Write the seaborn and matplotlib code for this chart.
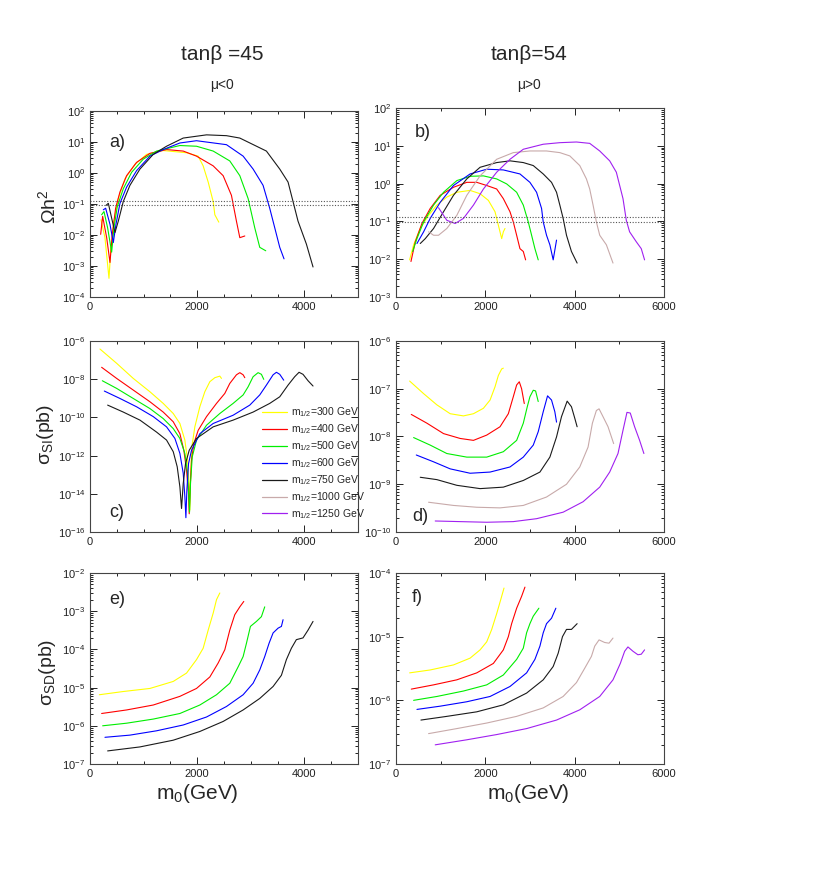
import numpy as np
import pandas as pd
import matplotlib
matplotlib.use("Agg")
import matplotlib.pyplot as plt
from matplotlib.lines import Line2D
from matplotlib.ticker import LogLocator, MultipleLocator, NullLocator, NullFormatter
import seaborn as sns

# m_1/2 values (GeV) and line colours
m12_vals = [300, 400, 500, 600, 750, 1000, 1250]
m12_colors = ["#ffff00", "#ff0000", "#00ee00", "#0000ff", "#1a1a1a", "#c8aaaa", "#a020f0"]

# ---- panel a: Omega h^2, tan(beta)=45, mu<0
a300_m0 = [205, 279, 354, 391, 447, 528, 652, 838, 1056, 1366, 1801, 2018, 2111, 2205, 2298, 2329, 2403]
a300_oh2 = [0.031, 0.0082, 0.0004, 0.004, 0.028, 0.15, 0.65, 1.9, 4.0, 5.3, 4.5, 3.5, 1.7, 0.51, 0.12, 0.045, 0.026]
a400_m0 = [199, 236, 311, 373, 416, 478, 559, 683, 869, 1118, 1428, 1739, 1987, 2298, 2484, 2639, 2732, 2795, 2888]
a400_oh2 = [0.0105, 0.04, 0.0082, 0.0013, 0.0105, 0.073, 0.245, 0.82, 2.2, 4.3, 5.7, 5.1, 3.5, 1.7, 0.82, 0.19, 0.028, 0.0082, 0.0093]
a500_m0 = [217, 261, 329, 404, 447, 509, 621, 776, 994, 1242, 1677, 1987, 2298, 2608, 2795, 2950, 3074, 3167, 3279]
a500_oh2 = [0.045, 0.057, 0.017, 0.0028, 0.017, 0.082, 0.31, 1.05, 2.8, 5.1, 7.7, 7.3, 5.1, 2.45, 0.82, 0.15, 0.017, 0.004, 0.0031]
a600_m0 = [248, 292, 373, 435, 484, 559, 683, 869, 1118, 1366, 1677, 1987, 2546, 2857, 3043, 3229, 3353, 3447, 3540, 3620]
a600_oh2 = [0.065, 0.073, 0.022, 0.0057, 0.022, 0.105, 0.35, 1.19, 3.5, 5.7, 9.3, 11, 8.2, 3.5, 1.34, 0.4, 0.073, 0.017, 0.004, 0.0017]
a750_m0 = [298, 342, 404, 466, 528, 621, 745, 932, 1180, 1428, 1739, 2174, 2546, 2795, 3291, 3540, 3695, 3788, 3881, 4037, 4161]
a750_oh2 = [0.09, 0.105, 0.035, 0.012, 0.028, 0.12, 0.4, 1.34, 4.0, 7.3, 13.4, 17, 16, 13.4, 5.1, 1.34, 0.51, 0.12, 0.028, 0.0051, 0.00093]

# ---- panel b: Omega h^2, tan(beta)=54, mu>0
b300_m0 = [305, 394, 543, 729, 915, 1138, 1362, 1659, 1882, 2068, 2217, 2292, 2366, 2403, 2440]
b300_oh2 = [0.0096, 0.024, 0.065, 0.145, 0.27, 0.44, 0.59, 0.66, 0.54, 0.36, 0.18, 0.079, 0.035, 0.053, 0.065]
b400_m0 = [335, 432, 580, 766, 990, 1287, 1585, 1808, 2031, 2254, 2403, 2552, 2626, 2701, 2775, 2850, 2902]
b400_oh2 = [0.0087, 0.029, 0.088, 0.22, 0.49, 0.80, 1.08, 1.08, 0.89, 0.72, 0.40, 0.18, 0.097, 0.043, 0.019, 0.016, 0.0096]
b500_m0 = [372, 469, 618, 841, 1064, 1362, 1659, 1957, 2254, 2478, 2701, 2850, 2961, 3036, 3110, 3184]
b500_oh2 = [0.016, 0.035, 0.097, 0.27, 0.59, 1.2, 1.56, 1.6, 1.33, 0.98, 0.59, 0.27, 0.097, 0.043, 0.019, 0.0096]
b600_m0 = [469, 618, 766, 990, 1287, 1659, 2031, 2403, 2775, 2998, 3147, 3259, 3296, 3370, 3445, 3519, 3594]
b600_oh2 = [0.026, 0.053, 0.12, 0.32, 0.89, 1.8, 2.4, 2.3, 1.8, 1.08, 0.59, 0.22, 0.097, 0.043, 0.024, 0.0096, 0.032]
b750_m0 = [543, 655, 841, 1064, 1287, 1585, 1882, 2254, 2552, 2850, 3073, 3296, 3482, 3594, 3668, 3742, 3817, 3928, 4055]
b750_oh2 = [0.026, 0.035, 0.065, 0.18, 0.49, 1.33, 2.7, 3.6, 4.0, 3.6, 3.0, 1.8, 1.08, 0.59, 0.27, 0.12, 0.043, 0.016, 0.0079]
b1000_m0 = [729, 841, 952, 1138, 1362, 1585, 1882, 2254, 2626, 2998, 3370, 3668, 3891, 4114, 4263, 4337, 4412, 4486, 4561, 4710, 4858]
b1000_oh2 = [0.053, 0.043, 0.043, 0.065, 0.145, 0.49, 1.6, 4.4, 6.6, 7.3, 7.3, 6.6, 5.4, 3.0, 1.33, 0.72, 0.27, 0.097, 0.043, 0.024, 0.0079]
b1250_m0 = [952, 1138, 1324, 1510, 1734, 1957, 2254, 2552, 2850, 3296, 3668, 4040, 4337, 4561, 4784, 4933, 5082, 5156, 5230, 5379, 5491, 5565]
b1250_oh2 = [0.23, 0.107, 0.088, 0.12, 0.27, 0.72, 2.0, 4.4, 8.1, 11, 12.1, 12.6, 11.6, 7.3, 4.0, 2.0, 0.40, 0.107, 0.053, 0.029, 0.019, 0.0096]

# ---- panel c: sigma_SI (pb), tan(beta)=45
c300_m0 = [186, 497, 807, 1118, 1366, 1553, 1677, 1770, 1820, 1851, 1863, 1875, 1900, 1956, 2049, 2142, 2236, 2329, 2422, 2453]
c300_si = [3.8e-7, 6.8e-8, 1.1e-8, 2.2e-9, 5.4e-10, 1.6e-10, 4.8e-11, 6.5e-12, 5.8e-13, 2.3e-14, 1.4e-15, 5.1e-14,
           2.9e-12, 3.2e-11, 3.6e-10, 2.2e-9, 7.4e-9, 1.2e-8, 1.45e-8, 1.1e-8]
c400_m0 = [217, 497, 807, 1118, 1366, 1553, 1677, 1751, 1801, 1838, 1851, 1869, 1894, 1938, 2018, 2174, 2360, 2515, 2608,
           2732, 2795, 2857, 2888]
c400_si = [4.2e-8, 1.1e-8, 2.7e-9, 6.6e-10, 1.9e-10, 5.9e-11, 1.4e-11, 1.9e-12, 1.7e-13, 1.0e-14, 9e-16, 2.3e-14, 5.8e-13,
           4.3e-12, 2.1e-11, 1.1e-10, 5.4e-10, 1.8e-9, 6e-9, 1.7e-8, 2.2e-8, 1.7e-8, 1.2e-8]
c500_m0 = [230, 497, 807, 1118, 1366, 1553, 1677, 1770, 1820, 1844, 1857, 1875, 1907, 1987, 2174, 2422, 2670, 2857, 2950,
           3043, 3136, 3198, 3242]
c500_si = [8.3e-9, 3.3e-9, 9.8e-10, 2.9e-10, 8.7e-11, 2.6e-11, 7.9e-12, 1.3e-12, 1.2e-13, 6.9e-15, 1.1e-15, 3.4e-14,
           8.5e-13, 6.5e-12, 3.9e-11, 1.6e-10, 5.4e-10, 1.5e-9, 4e-9, 1.35e-8, 2.2e-8, 1.8e-8, 9.8e-9]
c600_m0 = [267, 559, 869, 1180, 1428, 1584, 1677, 1739, 1770, 1789, 1807, 1838, 1894, 2049, 2298, 2670, 2981, 3167, 3291,
           3416, 3478, 3540, 3614]
c600_si = [2.4e-9, 9.8e-10, 3.6e-10, 1.1e-10, 3.2e-11, 7.9e-12, 1.3e-12, 1.2e-13, 6.9e-15, 5.6e-16, 1.5e-14, 3.8e-13,
           1.9e-12, 1.4e-11, 4.8e-11, 1.3e-10, 4.4e-10, 1.5e-9, 4.9e-9, 1.7e-8, 2.3e-8, 1.8e-8, 8.9e-9]
c750_m0 = [329, 621, 932, 1242, 1428, 1553, 1627, 1677, 1708, 1739, 1782, 1851, 1987, 2298, 2670, 3043, 3353, 3540, 3695,
           3819, 3900, 3974, 4068, 4161]
c750_si = [4.4e-10, 1.9e-10, 7.2e-11, 1.7e-11, 6.5e-12, 1.6e-12, 2.6e-13, 2.3e-14, 1.7e-15, 3.4e-14, 3.8e-13, 1.9e-12,
           7.9e-12, 3.2e-11, 7.2e-11, 1.9e-10, 5.4e-10, 1.2e-9, 4.9e-9, 1.35e-8, 2.3e-8, 1.8e-8, 8.3e-9, 4.4e-9]

# ---- panel d: sigma_SI (pb), tan(beta)=54
d300_m0 = [305, 618, 915, 1213, 1510, 1734, 1957, 2106, 2217, 2292, 2366, 2403]
d300_si = [1.45e-7, 7.9e-8, 4.6e-8, 3.0e-8, 2.7e-8, 3.0e-8, 3.9e-8, 5.8e-8, 1.1e-7, 1.9e-7, 2.6e-7, 2.7e-7]
d400_m0 = [342, 692, 1064, 1436, 1734, 2031, 2329, 2515, 2626, 2701, 2760, 2812, 2872]
d400_si = [2.9e-8, 1.9e-8, 1.15e-8, 9.1e-9, 8.3e-9, 1.07e-8, 1.6e-8, 3.0e-8, 6.8e-8, 1.2e-7, 1.4e-7, 1.0e-7, 4.9e-8]
d500_m0 = [394, 766, 1138, 1585, 2031, 2403, 2701, 2850, 2939, 2998, 3073, 3125, 3184]
d500_si = [9.5e-9, 6.6e-9, 4.4e-9, 3.7e-9, 3.7e-9, 4.8e-9, 8.3e-9, 1.9e-8, 4.2e-8, 6.8e-8, 9.3e-8, 9e-8, 5.4e-8]
d600_m0 = [454, 841, 1213, 1659, 2106, 2552, 2850, 3073, 3184, 3296, 3393, 3482, 3556, 3594]
d600_si = [4.1e-9, 2.95e-9, 2.1e-9, 1.7e-9, 1.8e-9, 2.3e-9, 3.7e-9, 6.6e-9, 1.26e-8, 3.3e-8, 7.1e-8, 5.8e-8, 3.3e-8, 2.0e-8]
d750_m0 = [543, 915, 1362, 1882, 2403, 2850, 3222, 3445, 3594, 3705, 3832, 3928, 4003, 4055]
d750_si = [1.4e-9, 1.25e-9, 9.5e-10, 8.1e-10, 8.7e-10, 1.2e-9, 1.8e-9, 3.7e-9, 9.8e-9, 2.6e-8, 5.5e-8, 4.2e-8, 2.4e-8, 1.6e-8]
d1000_m0 = [729, 1287, 1808, 2329, 2850, 3370, 3817, 4114, 4300, 4397, 4486, 4546, 4635, 4747, 4873]
d1000_si = [4.2e-10, 3.6e-10, 3.3e-10, 3.2e-10, 3.6e-10, 5.4e-10, 1.0e-9, 2.3e-9, 6.0e-9, 1.9e-8, 3.5e-8, 3.8e-8, 2.6e-8,
            1.6e-8, 7.1e-9]
d1250_m0 = [878, 1436, 2031, 2626, 3147, 3742, 4188, 4561, 4784, 4970, 5082, 5171, 5245, 5342, 5454, 5550]
d1250_si = [1.7e-10, 1.65e-10, 1.6e-10, 1.65e-10, 1.9e-10, 2.6e-10, 4.3e-10, 8.7e-10, 1.8e-9, 4.4e-9, 1.35e-8, 3.2e-8,
            3.1e-8, 1.6e-8, 8.3e-9, 4.4e-9]

# ---- panel e: sigma_SD (pb), tan(beta)=45
e300_m0 = [174, 621, 1118, 1553, 1801, 1987, 2111, 2205, 2298, 2360, 2422]
e300_sd = [6.5e-6, 7.9e-6, 9.5e-6, 1.45e-5, 2.4e-5, 5.4e-5, 1.07e-4, 3.2e-4, 8.9e-4, 2.0e-3, 3.0e-3]
e400_m0 = [217, 683, 1180, 1677, 1987, 2236, 2391, 2515, 2608, 2701, 2795, 2869]
e400_sd = [2.1e-6, 2.6e-6, 3.5e-6, 5.9e-6, 9.5e-6, 1.9e-5, 4.4e-5, 9.8e-5, 3.2e-4, 8.1e-4, 1.3e-3, 1.8e-3]
e500_m0 = [236, 683, 1180, 1677, 2049, 2360, 2608, 2764, 2857, 2919, 2993, 3105, 3198, 3260]
e500_sd = [1.0e-6, 1.17e-6, 1.5e-6, 2.1e-6, 3.5e-6, 6.5e-6, 1.3e-5, 3.5e-5, 6.5e-5, 1.45e-4, 4.0e-4, 5.4e-4, 7.2e-4, 1.3e-3]
e600_m0 = [279, 745, 1242, 1739, 2174, 2546, 2857, 3043, 3167, 3260, 3341, 3416, 3509, 3571, 3602]
e600_sd = [5.0e-7, 5.7e-7, 7.4e-7, 1.05e-6, 1.7e-6, 3.2e-6, 6.5e-6, 1.3e-5, 2.9e-5, 6.5e-5, 1.45e-4, 2.7e-4, 3.6e-4,
           4.0e-4, 6.0e-4]
e750_m0 = [329, 932, 1553, 2049, 2484, 2857, 3167, 3416, 3571, 3664, 3757, 3850, 3974, 4068, 4161]
e750_sd = [2.2e-7, 2.8e-7, 4.2e-7, 7.1e-7, 1.3e-6, 2.6e-6, 5.2e-6, 1.07e-5, 2.1e-5, 5.4e-5, 1.07e-4, 1.8e-4, 2.0e-4,
           3.2e-4, 5.4e-4]

# ---- panel f: sigma_SD (pb), tan(beta)=54
f300_m0 = [305, 766, 1287, 1659, 1882, 2031, 2143, 2254, 2344, 2418]
f300_sd = [2.7e-6, 3.0e-6, 3.6e-6, 4.6e-6, 6.2e-6, 8.3e-6, 1.3e-5, 2.3e-5, 3.8e-5, 5.8e-5]
f400_m0 = [342, 841, 1362, 1808, 2180, 2403, 2515, 2589, 2701, 2812, 2887]
f400_sd = [1.5e-6, 1.75e-6, 2.1e-6, 2.7e-6, 3.8e-6, 6.2e-6, 1.0e-5, 1.6e-5, 2.8e-5, 4.3e-5, 6.0e-5]
f500_m0 = [394, 915, 1510, 2031, 2403, 2701, 2850, 2924, 2998, 3073, 3199]
f500_sd = [1.0e-6, 1.15e-6, 1.4e-6, 1.75e-6, 2.5e-6, 4.4e-6, 6.6e-6, 1.15e-5, 1.6e-5, 2.1e-5, 2.8e-5]
f600_m0 = [469, 990, 1585, 2106, 2552, 2924, 3110, 3222, 3296, 3370, 3482, 3579]
f600_sd = [7.2e-7, 8.1e-7, 9.5e-7, 1.15e-6, 1.65e-6, 2.7e-6, 4.4e-6, 7.1e-6, 1.15e-5, 1.6e-5, 1.95e-5, 2.8e-5]
f750_m0 = [558, 1138, 1808, 2403, 2924, 3296, 3519, 3631, 3727, 3817, 3928, 4055]
f750_sd = [4.9e-7, 5.6e-7, 6.6e-7, 8.5e-7, 1.3e-6, 2.1e-6, 3.4e-6, 5.5e-6, 1.0e-5, 1.3e-5, 1.3e-5, 1.6e-5]
f1000_m0 = [729, 1362, 2031, 2701, 3296, 3742, 4040, 4226, 4375, 4449, 4546, 4672, 4769, 4858]
f1000_sd = [3.0e-7, 3.6e-7, 4.4e-7, 5.6e-7, 7.6e-7, 1.15e-6, 1.9e-6, 3.2e-6, 4.9e-6, 7.1e-6, 8.9e-6, 8.1e-6, 7.9e-6, 9.5e-6]
f1250_m0 = [878, 1585, 2254, 2924, 3594, 4114, 4561, 4858, 5022, 5119, 5193, 5305, 5416, 5491, 5565]
f1250_sd = [2.0e-7, 2.4e-7, 2.9e-7, 3.6e-7, 4.9e-7, 7.1e-7, 1.15e-6, 2.1e-6, 3.8e-6, 5.9e-6, 6.9e-6, 5.9e-6, 5.2e-6,
            5.3e-6, 6.2e-6]

# WMAP band
wmap_band = [0.094, 0.129]

# y tick decades shown on each panel
yticks_a = [1e-4, 1e-3, 1e-2, 1e-1, 1e0, 1e1, 1e2]
yticks_b = [1e-3, 1e-2, 1e-1, 1e0, 1e1, 1e2]
yticks_c = [1e-16, 1e-14, 1e-12, 1e-10, 1e-8, 1e-6]
yticks_d = [1e-10, 1e-9, 1e-8, 1e-7, 1e-6]
yticks_e = [1e-7, 1e-6, 1e-5, 1e-4, 1e-3, 1e-2]
yticks_f = [1e-7, 1e-6, 1e-5, 1e-4]


def make_df(curves):
    frames = [pd.DataFrame({"m0": xs, "val": ys, "m12": m}) for m, xs, ys in curves]
    return pd.concat(frames, ignore_index=True)


panels = {
    "a": make_df([(300, a300_m0, a300_oh2), (400, a400_m0, a400_oh2), (500, a500_m0, a500_oh2),
                  (600, a600_m0, a600_oh2), (750, a750_m0, a750_oh2)]),
    "b": make_df([(300, b300_m0, b300_oh2), (400, b400_m0, b400_oh2), (500, b500_m0, b500_oh2),
                  (600, b600_m0, b600_oh2), (750, b750_m0, b750_oh2), (1000, b1000_m0, b1000_oh2),
                  (1250, b1250_m0, b1250_oh2)]),
    "c": make_df([(300, c300_m0, c300_si), (400, c400_m0, c400_si), (500, c500_m0, c500_si),
                  (600, c600_m0, c600_si), (750, c750_m0, c750_si)]),
    "d": make_df([(300, d300_m0, d300_si), (400, d400_m0, d400_si), (500, d500_m0, d500_si),
                  (600, d600_m0, d600_si), (750, d750_m0, d750_si), (1000, d1000_m0, d1000_si),
                  (1250, d1250_m0, d1250_si)]),
    "e": make_df([(300, e300_m0, e300_sd), (400, e400_m0, e400_sd), (500, e500_m0, e500_sd),
                  (600, e600_m0, e600_sd), (750, e750_m0, e750_sd)]),
    "f": make_df([(300, f300_m0, f300_sd), (400, f400_m0, f400_sd), (500, f500_m0, f500_sd),
                  (600, f600_m0, f600_sd), (750, f750_m0, f750_sd), (1000, f1000_m0, f1000_sd),
                  (1250, f1250_m0, f1250_sd)]),
}
yticks = {"a": yticks_a, "b": yticks_b, "c": yticks_c, "d": yticks_d, "e": yticks_e, "f": yticks_f}

sns.set_style("ticks", {"xtick.direction": "in", "ytick.direction": "in"})
plt.rcParams["font.family"] = ["Liberation Sans", "DejaVu Sans"]
plt.rcParams["mathtext.fontset"] = "custom"
plt.rcParams["mathtext.rm"] = "Liberation Sans"
plt.rcParams["mathtext.it"] = "Liberation Sans:italic"

palette = dict(zip(m12_vals, m12_colors))

fig = plt.figure(figsize=(8.17, 8.72), dpi=100)
W, H = 817, 872
# panel boxes in pixels: left, top, right, bottom
boxes = {
    "a": (90, 111, 358, 297), "b": (396, 108, 664, 297),
    "c": (90, 341, 358, 532), "d": (396, 341, 664, 532),
    "e": (90, 573, 358, 764), "f": (396, 573, 664, 764),
}
letter_pos = {"a": (0.07, 0.83), "b": (0.07, 0.87), "c": (0.07, 0.1), "d": (0.06, 0.08),
              "e": (0.07, 0.86), "f": (0.06, 0.87)}

axes = {}
for key, (l, t, r, b) in boxes.items():
    ax = fig.add_axes([l / W, 1 - b / H, (r - l) / W, (b - t) / H])
    axes[key] = ax
    ax.set_yscale("log")
    sns.lineplot(data=panels[key], x="m0", y="val", hue="m12", palette=palette,
                 estimator=None, sort=False, legend=False, linewidth=0.8, ax=ax)
    left_col = key in ("a", "c", "e")
    ax.set_xlim(0, 5000 if left_col else 6000)
    ax.set_xticks([0, 2000, 4000] if left_col else [0, 2000, 4000, 6000])
    ax.xaxis.set_minor_locator(MultipleLocator(500 if left_col else 1000))
    ax.set_yticks(yticks[key])
    ax.set_ylim(yticks[key][0], yticks[key][-1])
    if key == "c":
        ax.yaxis.set_minor_locator(NullLocator())
    else:
        ax.yaxis.set_minor_locator(LogLocator(base=10, subs=np.arange(2, 10), numticks=20))
    ax.yaxis.set_minor_formatter(NullFormatter())
    ax.tick_params(which="both", top=True, right=True, labelsize=8, width=0.7, colors="#222222")
    ax.tick_params(which="major", length=5)
    ax.tick_params(which="minor", length=2.5)
    for sp in ax.spines.values():
        sp.set_linewidth(0.8)
        sp.set_color("#444444")
    ax.set_xlabel("")
    ax.set_ylabel("")
    ax.text(*letter_pos[key], key + ")", transform=ax.transAxes, fontsize=13,
            ha="left", va="center")

for key in ("a", "b"):
    for yv in wmap_band:
        axes[key].axhline(yv, color="#555555", linestyle=(0, (1, 1.5)), linewidth=0.8)

legend_handles = [Line2D([0], [0], color=c, lw=0.9) for c in m12_colors]
legend_labels = [r"m$_{\mathregular{1/2}}$=%d GeV" % m for m in m12_vals]
axes["c"].legend(legend_handles, legend_labels, loc="center left", bbox_to_anchor=(0.64, 0.36),
                 frameon=False, fontsize=7.5, handlelength=2.4, handletextpad=0.4,
                 labelspacing=0.3, borderpad=0, borderaxespad=0)

fig.text(222 / W, 1 - 55 / H, "tanβ =45", fontsize=15, ha="center", va="center")
fig.text(529 / W, 1 - 55 / H, "tanβ=54", fontsize=15, ha="center", va="center")
fig.text(222 / W, 1 - 85 / H, "μ<0", fontsize=10, ha="center", va="center")
fig.text(529 / W, 1 - 85 / H, "μ>0", fontsize=10, ha="center", va="center")

fig.text(48 / W, 1 - 207 / H, r"Ωh$^{\mathregular{2}}$", fontsize=14, rotation=90, ha="center", va="center")
fig.text(46 / W, 1 - 434 / H, r"σ$_{\mathregular{SI}}$(pb)", fontsize=14, rotation=90,
         ha="center", va="center")
fig.text(48 / W, 1 - 672 / H, r"σ$_{\mathregular{SD}}$(pb)", fontsize=14, rotation=90,
         ha="center", va="center")
fig.text(197 / W, 1 - 793 / H, r"m$_{\mathregular{0}}$(GeV)", fontsize=15, ha="center", va="center")
fig.text(528 / W, 1 - 793 / H, r"m$_{\mathregular{0}}$(GeV)", fontsize=15, ha="center", va="center")

fig.savefig("out.png", dpi=100, facecolor="white")
